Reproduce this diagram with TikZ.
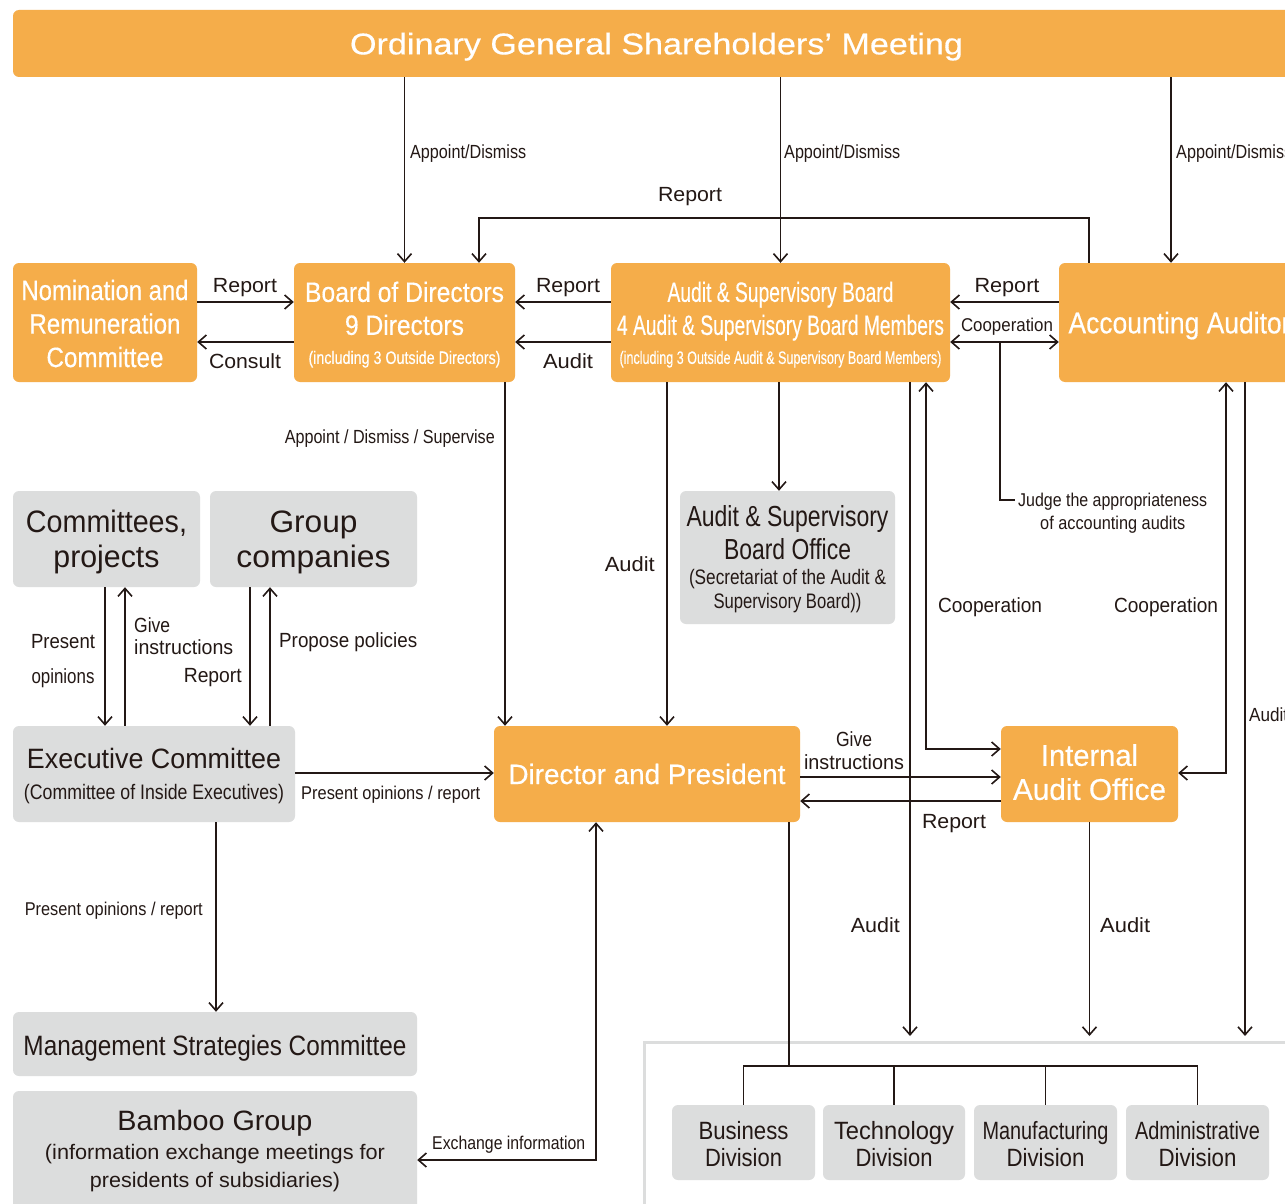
\documentclass[tikz,border=0pt]{standalone}
\usepackage{fontspec}
\setmainfont{Liberation Sans}
\newfontfamily\heavy[FakeBold=0.45]{Liberation Sans}
\usetikzlibrary{arrows.meta,calc}
\definecolor{orng}{HTML}{F5AD4A}
\definecolor{pale}{HTML}{DCDDDD}
\definecolor{ink}{HTML}{231815}
% squeeze a line of text to a given width (in pt), keeping its height
\newcommand\hsq[2]{\resizebox{#1pt}{\height}{#2}}
\newcommand\fsz[2]{\fontsize{#1}{#2}\selectfont}
% invisible struts that pad a text block at the top or the bottom
\newcommand\padtop[1]{\rule{0pt}{#1pt}}
\newcommand\padbot[1]{\rule[-#1pt]{0pt}{0pt}}
\tikzset{
  wire/.style={draw=ink, line width=1.7pt},
  tip/.tip={Straight Barb[length=8pt,width=14pt,line width=1.6pt]},
  arr/.style={wire, -tip},
  both/.style={wire, tip-tip},
  obox/.style={fill=orng, rounded corners=6pt, text=white, align=center, inner sep=0pt},
  gbox/.style={fill=pale, rounded corners=6pt, text=ink, align=center, inner sep=0pt},
  lab/.style={text=ink, inner sep=0pt, align=center, text depth=0pt, font=\fsz{20.5}{23}},
  slab/.style={lab, font=\fsz{19}{23}},
}
\begin{document}
\begin{tikzpicture}[x=1pt,y=-1pt]
\useasboundingbox (0,0) rectangle (1285,1204);
\fill[white] (0,0) rectangle (1285,1204);
\clip (0,0) rectangle (1285,1204);

% frame around the operating divisions
\node[draw=pale, line width=3pt, minimum width=700pt, minimum height=220pt, anchor=north west, inner sep=0pt] (frame) at (643,1041) {};

% ---- boxes ----
\node[obox, minimum width=1287pt, minimum height=67pt, font=\heavy\fsz{30}{34}] (bar) at (656.5,43.5)
  {\padtop{28}\hsq{613}{Ordinary General Shareholders’ Meeting}};

\node[obox, minimum width=184pt, minimum height=119pt, font=\heavy\fsz{28}{33.5}] (nrc) at (105,322.5)
  {\padtop{22.4}\hsq{167}{Nomination and}\\\hsq{151}{Remuneration}\\\hsq{117}{Committee}};
\node[obox, minimum width=221pt, minimum height=119pt, font=\heavy\fsz{28}{33}] (bod) at (404.5,322.5)
  {\padtop{24.5}\hsq{199}{Board of Directors}\\\hsq{119}{9 Directors}\\[-4pt]{\fsz{18}{33}\hsq{192}{(including 3 Outside Directors)}}};
\node[obox, minimum width=339pt, minimum height=119pt, font=\heavy\fsz{28}{33}] (asb) at (780.5,322.5)
  {\padtop{24.5}\hsq{226}{Audit \& Supervisory Board}\\\hsq{327}{4 Audit \& Supervisory Board Members}\\[-4pt]{\fsz{18}{33}\hsq{322}{(including 3 Outside Audit \& Supervisory Board Members)}}};
\node[obox, minimum width=241pt, minimum height=119pt, font=\heavy\fsz{30}{34}] (aa) at (1179.5,322.5)
  {\padtop{27.9}\hsq{222}{Accounting Auditor}};

\node[gbox, minimum width=187pt, minimum height=96pt, font=\fsz{31}{35}] (cp) at (106.5,539)
  {\padtop{28.6}\hsq{161}{Committees,}\\\hsq{106}{projects}};
\node[gbox, minimum width=207pt, minimum height=96pt, font=\fsz{31}{35}] (gc) at (313.5,539)
  {\padtop{28.6}\hsq{88}{Group}\\\hsq{154}{companies}};
\node[gbox, minimum width=215pt, minimum height=133pt, font=\fsz{29}{33}] (asbo) at (787.5,557.5)
  {\padtop{24}\hsq{202}{Audit \& Supervisory}\\\hsq{127}{Board Office}\\[-8pt]{\fsz{21}{33}\hsq{197}{(Secretariat of the Audit \&}}\\[-9pt]{\fsz{21}{33}\hsq{148}{Supervisory Board))}}};

\node[gbox, minimum width=282pt, minimum height=96pt, font=\fsz{28}{31}] (exec) at (154,774)
  {\padtop{24.5}\hsq{254}{Executive Committee}\\{\fsz{21}{31}\hsq{260}{(Committee of Inside Executives)}}};
\node[obox, minimum width=306pt, minimum height=96pt, font=\heavy\fsz{28}{32}] (dp) at (647,774)
  {\hsq{277}{Director and President}};
\node[obox, minimum width=177pt, minimum height=96pt, font=\heavy\fsz{30}{34}] (iao) at (1089.5,774)
  {\hsq{97}{Internal}\\\hsq{153}{Audit Office}\padbot{4}};

\node[gbox, minimum width=404pt, minimum height=64pt, font=\fsz{28}{32}] (msc) at (215,1044)
  {\padtop{28.5}\hsq{383}{Management Strategies Committee}};
\node[gbox, minimum width=404pt, minimum height=124pt, font=\fsz{28}{31}] (bamboo) at (215,1153)
  {\hsq{195}{Bamboo Group}\\[-2pt]{\fsz{21}{31}\hsq{340}{(information exchange meetings for}}\\[-3pt]{\fsz{21}{31}\hsq{250}{presidents of subsidiaries)}\padbot{8.5}}};

\node[gbox, minimum width=143pt, minimum height=75pt, font=\fsz{25}{27}] (bdiv) at (743.5,1142.5)
  {\padtop{21.3}\hsq{90}{Business}\\\hsq{77}{Division}};
\node[gbox, minimum width=142pt, minimum height=75pt, font=\fsz{25}{27}] (tdiv) at (894,1142.5)
  {\padtop{21.3}\hsq{120}{Technology}\\\hsq{77}{Division}};
\node[gbox, minimum width=143pt, minimum height=75pt, font=\fsz{25}{27}] (mdiv) at (1045.5,1142.5)
  {\padtop{21.3}\hsq{126}{Manufacturing}\\\hsq{78}{Division}};
\node[gbox, minimum width=143pt, minimum height=75pt, font=\fsz{25}{27}] (adiv) at (1197.5,1142.5)
  {\padtop{21.3}\hsq{125}{Administrative}\\\hsq{78}{Division}};

% ---- reference lines for connector routing ----
\coordinate (xAA) at (1171,0);
\coordinate (xR1) at (1089,0);
\coordinate (xR2) at (479,0);
\coordinate (yTop) at (0,218);
\coordinate (yR) at (0,302);
\coordinate (yA) at (0,342);
\coordinate (xJ) at (1000,0);
\coordinate (yJ) at (0,500);
\coordinate (xP) at (505,0);
\coordinate (xQ) at (667,0);
\coordinate (xO) at (779,0);
\coordinate (xS) at (910,0);
\coordinate (xC1) at (926,0);
\coordinate (yC1) at (0,749);
\coordinate (xC2) at (1226,0);
\coordinate (yC2) at (0,773);
\coordinate (xT) at (1245,0);
\coordinate (x1) at (105,0);
\coordinate (x2) at (125,0);
\coordinate (x3) at (250,0);
\coordinate (x4) at (270,0);
\coordinate (yE) at (0,773);
\coordinate (xM) at (216,0);
\coordinate (xX) at (596,0);
\coordinate (yX) at (0,1160);
\coordinate (yG) at (0,777);
\coordinate (yRp) at (0,801);
\coordinate (xD) at (789,0);
\coordinate (yD) at (0,1066);

% ---- connectors ----
\draw[arr] (bar.south -| bod.north) -- (bod.north);
\draw[arr] (bar.south -| asb.north) -- (asb.north);
\draw[arr] (bar.south -| xAA) -- (aa.north -| xAA);
\draw[arr] (aa.north -| xR1) |- (yTop -| xR2) -- (bod.north -| xR2);

\draw[arr] (nrc.east |- yR) -- (bod.west |- yR);
\draw[arr] (bod.west |- yA) -- (nrc.east |- yA);
\draw[arr] (asb.west |- yR) -- (bod.east |- yR);
\draw[arr] (asb.west |- yA) -- (bod.east |- yA);
\draw[arr] (aa.west |- yR) -- (asb.east |- yR);
\draw[both] (asb.east |- yA) -- (aa.west |- yA);

\node[slab, anchor=west, inner xsep=3pt, font=\fsz{18.5}{23}] (judge) at (1015,511.5)
  {\hsq{189}{Judge the appropriateness}\\\hsq{145}{of accounting audits}};
\draw[wire] (xJ |- yA) |- (judge.west |- yJ);

\draw[arr] (bod.south -| xP) -- (dp.north -| xP);
\draw[arr] (asb.south -| xQ) -- (dp.north -| xQ);
\draw[arr] (asb.south -| xO) -- (asbo.north -| xO);
\draw[arr, shorten >=5pt] (asb.south -| xS) -- (frame.north -| xS);
\draw[both] (asb.south -| xC1) |- (iao.west |- yC1);
\draw[both] (aa.south -| xC2) |- (iao.east |- yC2);
\draw[arr, shorten >=5pt] (aa.south -| xT) -- (frame.north -| xT);

\draw[arr] (cp.south -| x1) -- (exec.north -| x1);
\draw[arr] (exec.north -| x2) -- (cp.south -| x2);
\draw[arr] (gc.south -| x3) -- (exec.north -| x3);
\draw[arr] (exec.north -| x4) -- (gc.south -| x4);
\draw[arr] (exec.east |- yE) -- (dp.west |- yE);
\draw[arr] (exec.south -| xM) -- (msc.north -| xM);
\draw[both] (dp.south -| xX) |- (bamboo.east |- yX);

\draw[arr] (dp.east |- yG) -- (iao.west |- yG);
\draw[arr] (iao.west |- yRp) -- (dp.east |- yRp);
\draw[arr, shorten >=5pt] (iao.south) -- (frame.north -| iao.south);

\draw[wire] (dp.south -| xD) -- (yD -| xD);
\draw[wire] (bdiv.north) -- (bdiv.north |- yD) -- (adiv.north |- yD) -- (adiv.north);
\draw[wire] (tdiv.north) -- (tdiv.north |- yD);
\draw[wire] (mdiv.north) -- (mdiv.north |- yD);

% ---- connector labels ----
\node[slab, anchor=west] (lAD1) at (410,152) {\hsq{116}{Appoint/Dismiss}};
\node[slab, anchor=west] (lAD2) at (784,152) {\hsq{116}{Appoint/Dismiss}};
\node[slab, anchor=west] (lAD3) at (1176,152) {\hsq{116}{Appoint/Dismiss}};
\node[lab] (lRtop) at (690,194) {\hsq{64}{Report}};
\node[lab] (lR1) at (245,285) {\hsq{64}{Report}};
\node[lab] (lC1) at (245,361) {\hsq{72}{Consult}};
\node[lab] (lR2) at (568,285) {\hsq{64}{Report}};
\node[lab] (lA1) at (568,361) {\hsq{50}{Audit}};
\node[lab] (lR3) at (1007,285) {\hsq{65}{Report}};
\node[slab, font=\fsz{18.5}{23}] (lCo1) at (1007,325) {\hsq{92}{Cooperation}};
\node[slab, anchor=east] (lADS) at (495,437) {\hsq{210}{Appoint / Dismiss / Supervise}};
\node[lab, anchor=east] (lA2) at (655,564) {\hsq{50}{Audit}};
\node[lab] (lCo2) at (990,605) {\hsq{104}{Cooperation}};
\node[lab] (lCo3) at (1166,605) {\hsq{104}{Cooperation}};
\node[slab, anchor=west] (lA3) at (1249,715) {\hsq{39}{Audit}};
\node[lab, font=\fsz{20.5}{35}] (lPO) at (63,658.5) {\hsq{64}{Present}\\\hsq{63}{opinions}};
\node[lab, anchor=west, align=left, font=\fsz{20.5}{22}] (lGI1) at (134,636) {\hsq{36}{Give}\\\hsq{99}{instructions}};
\node[lab, anchor=east] (lR4) at (242,675) {\hsq{58}{Report}};
\node[lab, anchor=west] (lPP) at (279,640) {\hsq{138}{Propose policies}};
\node[slab, anchor=west, font=\fsz{18.5}{23}] (lPR1) at (301,793) {\hsq{179}{Present opinions / report}};
\node[lab, font=\fsz{20.5}{23}] (lGI2) at (854,750.5) {\hsq{36}{Give}\\\hsq{100}{instructions}};
\node[lab] (lR5) at (954,821) {\hsq{64}{Report}};
\node[slab, anchor=east, font=\fsz{18.5}{23}] (lPR2) at (203,909) {\hsq{178}{Present opinions / report}};
\node[slab, anchor=west, font=\fsz{18.5}{23}] (lEx) at (432,1143) {\hsq{153}{Exchange information}};
\node[lab, anchor=east] (lA4) at (900,925) {\hsq{49}{Audit}};
\node[lab, anchor=west] (lA5) at (1100,925) {\hsq{50}{Audit}};
\end{tikzpicture}
\end{document}
